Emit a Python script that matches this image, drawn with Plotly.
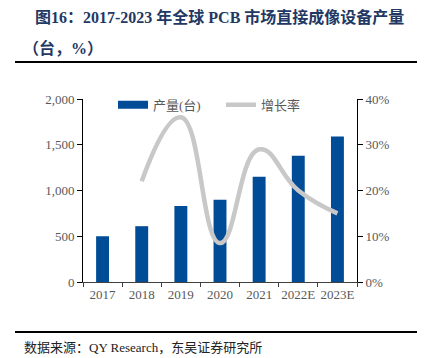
import plotly.graph_objects as go

years = ["2017", "2018", "2019", "2020", "2021", "2022E", "2023E"]
output_units = [500, 610, 830, 900, 1150, 1380, 1590]
growth_years = ["2018", "2019", "2020", "2021", "2022E", "2023E"]
growth_pct = [22, 36, 8.5, 29, 20, 15]

left_ticks = [0, 500, 1000, 1500, 2000]
left_labels = ["0", "500", "1,000", "1,500", "2,000"]
right_ticks = [0, 10, 20, 30, 40]
right_labels = ["0%", "10%", "20%", "30%", "40%"]

FONT = "Liberation Serif, Noto Sans CJK SC, serif"
BLUE = "#004C97"
GREY_LINE = "#C8C8C8"
TICK_GREY = "#595959"

fig = go.Figure()
fig.add_trace(go.Bar(x=years, y=output_units, name="产量(台)", marker_color=BLUE,
                     marker_line_width=0, yaxis="y", showlegend=False))
# legend proxy so the bar key is drawn as a wide block like the reference
fig.add_trace(go.Scatter(x=[None], y=[None], name="产量(台)", mode="lines",
                         line=dict(color=BLUE, width=8), yaxis="y"))
fig.add_trace(go.Scatter(x=growth_years, y=growth_pct, name="增长率", mode="lines",
                         line=dict(color=GREY_LINE, width=4.5, shape="spline", smoothing=1.3),
                         yaxis="y2"))

W, H = 427, 358
L, R, T, B = 83, 357, 99, 282
pw, ph = R - L, B - T

def px(x):
    return (x - L) / pw

def py(y):
    return (B - y) / ph

fig.update_layout(
    width=W, height=H,
    margin=dict(l=L, r=W - R, t=T, b=H - B, autoexpand=False),
    paper_bgcolor="white", plot_bgcolor="white",
    font=dict(family=FONT, size=13, color=TICK_GREY),
    bargap=0.67,
    showlegend=True,
    legend=dict(orientation="h", x=px(113), xanchor="left", y=1.05, yanchor="top",
                bgcolor="rgba(0,0,0,0)", font=dict(size=13, color=TICK_GREY),
                itemwidth=30, tracegroupgap=0, entrywidth=63, entrywidthmode="pixels"),
    xaxis=dict(type="category", categoryorder="array", categoryarray=years,
               showline=True, linecolor="#404040", linewidth=1,
               ticks="outside", ticklen=4, tickcolor="#404040", tickangle=0,
               automargin=False,
               tickson="boundaries", showgrid=False, tickfont=dict(size=13, color=TICK_GREY)),
    yaxis=dict(range=[0, 2000], tickvals=left_ticks, ticktext=left_labels,
               showline=True, linecolor="black", linewidth=1, ticks="outside",
               ticklen=5, tickcolor="black", showgrid=False, zeroline=False,
               automargin=False, tickfont=dict(size=13, color=TICK_GREY)),
    yaxis2=dict(range=[0, 40], tickvals=right_ticks, ticktext=right_labels,
                overlaying="y", side="right", showline=True, linecolor="black",
                linewidth=1, ticks="outside", ticklen=5, tickcolor="black",
                automargin=False,
                showgrid=False, zeroline=False, tickfont=dict(size=13, color=TICK_GREY)),
)

TITLE_COLOR = "#1F3864"
title1 = "<b>图16：2017-2023 年全球 PCB 市场直接成像设备产量</b>"
fig.add_annotation(text=title1,
                   xref="paper", yref="paper", x=px(33), y=py(17), xanchor="left",
                   yanchor="middle", showarrow=False,
                   font=dict(family=FONT, size=16, color=TITLE_COLOR))
fig.add_annotation(text="<b>（台，%）</b>",
                   xref="paper", yref="paper", x=px(21), y=py(48), xanchor="left",
                   yanchor="middle", showarrow=False,
                   font=dict(family=FONT, size=16, color=TITLE_COLOR))
fig.add_annotation(text="数据来源：QY Research，东吴证券研究所",
                   xref="paper", yref="paper", x=px(22), y=py(347), xanchor="left",
                   yanchor="middle", showarrow=False,
                   font=dict(family=FONT, size=13, color="#222222"))

fig.add_shape(type="line", xref="paper", yref="paper", x0=px(15), x1=px(417),
              y0=py(62), y1=py(62), line=dict(color="black", width=2))
fig.add_shape(type="line", xref="paper", yref="paper", x0=px(15), x1=px(417),
              y0=py(332), y1=py(332), line=dict(color="black", width=2))

fig.write_html("out.html", config={"displayModeBar": False},
               post_script="document.body.style.margin='0';document.body.style.overflow='hidden';")
